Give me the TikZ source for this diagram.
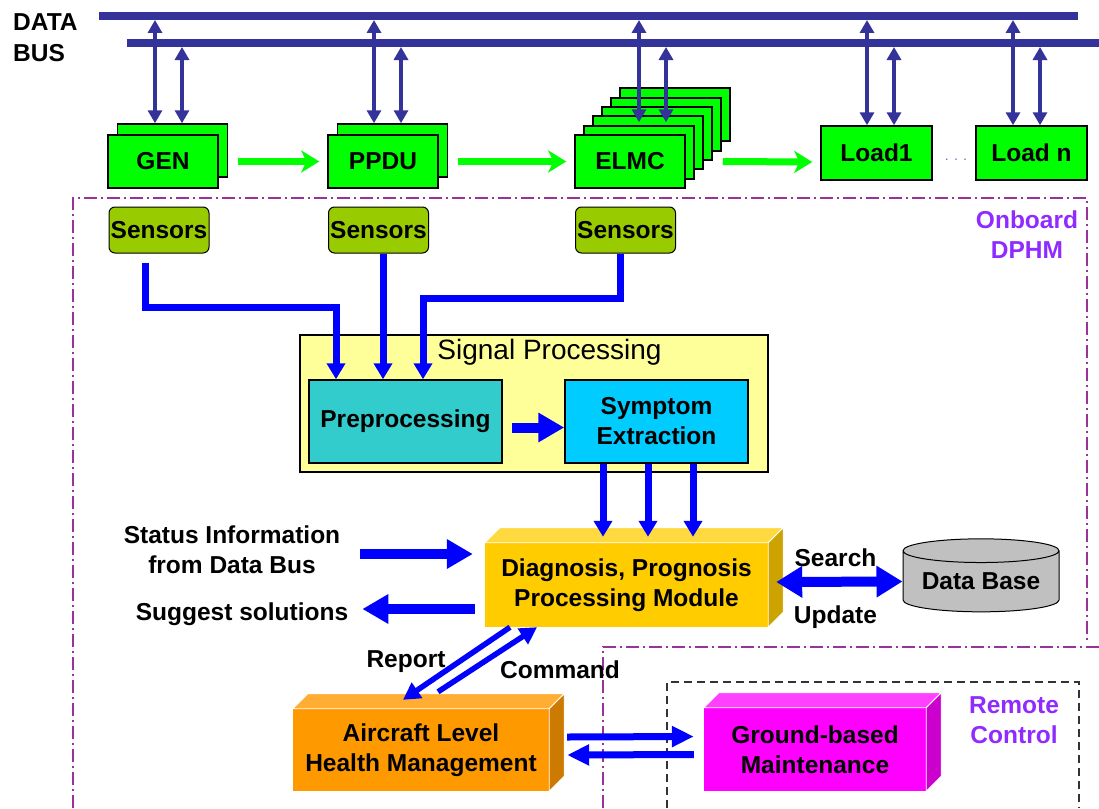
\documentclass[tikz,border=0pt]{standalone}
\usepackage{fontspec}
\setmainfont{Liberation Sans}
\usetikzlibrary{arrows.meta,shapes.geometric,shadows}

\definecolor{busblue}{HTML}{333399}
\definecolor{unitgreen}{HTML}{00FF00}
\definecolor{sensorgreen}{HTML}{99CC00}
\definecolor{sigyellow}{HTML}{FFFF99}
\definecolor{pregreen}{HTML}{33CCCC}
\definecolor{symblue}{HTML}{00CCFF}
\definecolor{flowblue}{HTML}{0000FF}
\definecolor{zonepurple}{HTML}{993399}
\definecolor{zonetext}{HTML}{8F2BFF}
\definecolor{dbgray}{HTML}{C0C0C0}
\definecolor{dpmfront}{HTML}{FFCC00}
\definecolor{dpmtop}{HTML}{FFD940}
\definecolor{dpmside}{HTML}{CCA300}
\definecolor{alhmfront}{HTML}{FF9900}
\definecolor{alhmtop}{HTML}{FFAD33}
\definecolor{alhmside}{HTML}{CC7A00}
\definecolor{gbmfront}{HTML}{FF00FF}
\definecolor{gbmtop}{HTML}{FF40FF}
\definecolor{gbmside}{HTML}{CC00CC}

\begin{document}
\begin{tikzpicture}[x=1pt,y=-1pt,
    font=\fontsize{24.5}{30}\selectfont\bfseries,
    unit/.style={draw=black,line width=1.5pt,fill=unitgreen,inner sep=0pt,
      minimum width=110pt,minimum height=53pt},
    stacked/.style 2 args={copy shadow={shadow xshift=#1pt,shadow yshift=#2pt,
      fill=unitgreen,draw=black,line width=1.5pt}},
    sensorbox/.style={draw=black,line width=1pt,fill=sensorgreen,rounded corners=6pt,
      inner sep=0pt,minimum width=100pt,minimum height=46pt},
    stage/.style={draw=black,line width=1.5pt,inner sep=0pt,minimum height=83pt,align=center},
    block/.style={inner sep=0pt,align=center},
    plain/.style={inner sep=0pt,align=center},
    zone/.style={zonepurple,line width=2pt,dash pattern=on 13pt off 4pt on 2pt off 4pt},
    buslink/.style={<->,>={Triangle[width=14pt,length=13pt]},busblue,line width=3.5pt},
    powerflow/.style={-{Stealth[width=22pt,length=18pt,inset=5pt]},unitgreen,line width=7pt},
    feed/.style={-{Triangle[width=18pt,length=16pt]},flowblue,line width=7pt},
    flow/.style={-{Triangle[width=28pt,length=26pt]},flowblue,line width=10pt},
    cmdlink/.style={-{Triangle[width=18pt,length=17pt]},flowblue,line width=5.5pt},
    groundlink/.style={-{Triangle[width=20pt,length=22pt]},flowblue,line width=7pt}]

    \useasboundingbox (0,0) rectangle (1099,808);

    % Data bus
    \draw[busblue,line width=8pt] (99,16) -- (1078,16);
    \draw[busblue,line width=8pt] (127,43) -- (1099,43);
    \coordinate (bus1) at (99,20);
    \coordinate (bus2) at (127,47);
    \node[plain,align=left,anchor=west,font=\fontsize{24.5}{31}\selectfont\bfseries] (busname) at (13,38) {DATA\\BUS};

    % Power units
    \node[unit,stacked={9.5}{11}] (gen) at (163,161.5) {GEN};
    \node[unit,stacked={9.5}{11}] (ppdu) at (383,161.5) {PPDU};
    \node[unit,stacked={45}{47},stacked={36}{37},stacked={27}{28},stacked={18}{19},stacked={9}{9}] (elmc) at (630,161.5) {ELMC};
    \node[unit,minimum width=111pt,minimum height=54pt] (loada) at (876.5,153) {Load1};
    \node[plain,font=\fontsize{14}{14}\selectfont,text=busblue!70] (dots) at (956,160) {. . .};
    \node[unit,minimum width=111pt,minimum height=54pt] (loadn) at (1031.5,153) {Load n};

    \foreach \n/\a/\b/\t in {gen/-8/19/11, ppdu/-9/18/11, elmc/9/36/12, loada/-9.5/17.5/0, loadn/-18.5/8.5/0} {
        \draw[buslink] ([xshift=\a pt]\n.north |- bus1) -- ([xshift=\a pt,yshift=\t pt]\n.north);
        \draw[buslink] ([xshift=\b pt]\n.north |- bus2) -- ([xshift=\b pt,yshift=\t pt]\n.north);
    }

    \draw[powerflow] ([xshift=19pt]gen.east) -- ([xshift=-8pt]ppdu.west);
    \draw[powerflow] ([xshift=19pt]ppdu.east) -- ([xshift=-8pt]elmc.west);
    \draw[powerflow] ([xshift=37pt]elmc.east) -- ([xshift=-8pt,yshift=-9pt]loada.west);

    % Zones
    \draw[zone] (73,808) -- (73,198) -- (1087,198) -- (1087,640);
    \node[plain,text=zonetext] (onboard) at (1027,235) {Onboard\\DPHM};
    \draw[zone] (603,808) -- (603,647) -- (1099,647);
    \draw[black!80,line width=1.5pt,dash pattern=on 8pt off 5pt] (667,808) -- (667,682) -- (1079,682) -- (1079,808);
    \node[plain,text=zonetext] (remote) at (1014,720) {Remote\\Control};

    % Sensors
    \node[sensorbox] (sena) at (159,230) {Sensors};
    \node[sensorbox] (senb) at (378.5,230) {Sensors};
    \node[sensorbox] (senc) at (625.5,230) {Sensors};

    % Signal processing
    \node[draw=black,line width=1.5pt,fill=sigyellow,minimum width=468pt,minimum height=137pt] (sig) at (534,403.5) {};
    \node[plain,font=\fontsize{28}{28}\selectfont] (sigtitle) at (549.5,352) {Signal Processing};
    \node[stage,fill=pregreen,minimum width=193pt] (pre) at (405.5,421.5) {Preprocessing};
    \node[stage,fill=symblue,minimum width=183pt] (sym) at (656.5,421.5) {Symptom\\Extraction};

    \draw[feed] ([xshift=-14pt,yshift=-9pt]sena.south) -- ++(0,45) -| ([xshift=-69.5pt]pre.north);
    \draw[feed] ([xshift=4.5pt]senb.south) -- ([xshift=-22.5pt]pre.north);
    \draw[feed] ([xshift=-5.5pt]senc.south) -- ++(0,45) -| ([xshift=17.5pt]pre.north);
    \draw[flow] ([xshift=9pt,yshift=-6pt]pre.east) -- ([yshift=-6pt]sym.west);

    % Diagnosis module
    \node[block,fill=dpmfront,minimum width=283pt,minimum height=84pt] (dpm) at (626.5,585) {Diagnosis, Prognosis\\Processing Module};
    \fill[dpmtop,draw=white,line width=0.8pt] (dpm.north west) -- ++(15,-15) -- ([shift={(15,-15)}]dpm.north east) -- (dpm.north east) -- cycle;
    \fill[dpmside,draw=white,line width=0.8pt] (dpm.north east) -- ++(15,-15) -- ([shift={(15,-15)}]dpm.south east) -- (dpm.south east) -- cycle;

    \foreach \dx in {-53.5,-8.5,36.5}
        \draw[feed] ([xshift=\dx pt]sym.south) -- ++(0,73);

    \node[plain] (status) at (232,550) {Status Information\\from Data Bus};
    \draw[flow] ([xshift=20pt,yshift=-4pt]status.east) -- ([xshift=-12pt,yshift=31pt]dpm.west);
    \node[plain] (suggest) at (242,614) {Suggest solutions};
    \draw[flow] ([xshift=-10pt,yshift=-24pt]dpm.west) -- ([xshift=14pt,yshift=5pt]suggest.east);

    % Data base
    \node[cylinder,shape border rotate=90,aspect=0.2,draw=black,line width=1pt,fill=dbgray,
      minimum width=156pt,minimum height=73pt,inner sep=0pt] (db) at (981,581.5) {Data Base};
    \draw[flowblue,line width=10pt,{Triangle[width=30pt,length=26pt]}-{Triangle[width=30pt,length=26pt]}] ([xshift=8pt,yshift=3pt]dpm.east) -- (db.west);
    \node[plain] (search) at (835.5,558) {Search};
    \node[plain] (update) at (835.5,617) {Update};

    % Health management
    \node[block,fill=alhmfront,minimum width=256pt,minimum height=82pt] (alhm) at (421,750) {Aircraft Level\\Health Management};
    \fill[alhmtop,draw=white,line width=0.8pt] (alhm.north west) -- ++(15,-15) -- ([shift={(15,-15)}]alhm.north east) -- (alhm.north east) -- cycle;
    \fill[alhmside,draw=white,line width=0.8pt] (alhm.north east) -- ++(15,-15) -- ([shift={(15,-15)}]alhm.south east) -- (alhm.south east) -- cycle;

    \node[block,fill=gbmfront,minimum width=222pt,minimum height=83pt] (gbm) at (815,749.5) {Ground-based\\Maintenance};
    \fill[gbmtop,draw=white,line width=0.8pt] (gbm.north west) -- ++(15,-15) -- ([shift={(15,-15)}]gbm.north east) -- (gbm.north east) -- cycle;
    \fill[gbmside,draw=white,line width=0.8pt] (gbm.north east) -- ++(15,-15) -- ([shift={(15,-15)}]gbm.south east) -- (gbm.south east) -- cycle;

    \draw[cmdlink] ([xshift=-116.5pt]dpm.south) -- ([xshift=-18pt,yshift=9pt]alhm.north);
    \draw[cmdlink] ([xshift=17pt,yshift=17pt]alhm.north) -- ([xshift=-89.5pt]dpm.south);
    \node[plain] (report) at (406,662) {Report};
    \node[plain] (command) at (560,670) {Command};

    \draw[groundlink] ([xshift=18pt,yshift=13pt]alhm.east) -- ([xshift=-10pt,yshift=13pt]gbm.west);
    \draw[groundlink] ([xshift=-10pt,yshift=-5pt]gbm.west) -- ([xshift=18pt,yshift=-5pt]alhm.east);
\end{tikzpicture}
\end{document}
